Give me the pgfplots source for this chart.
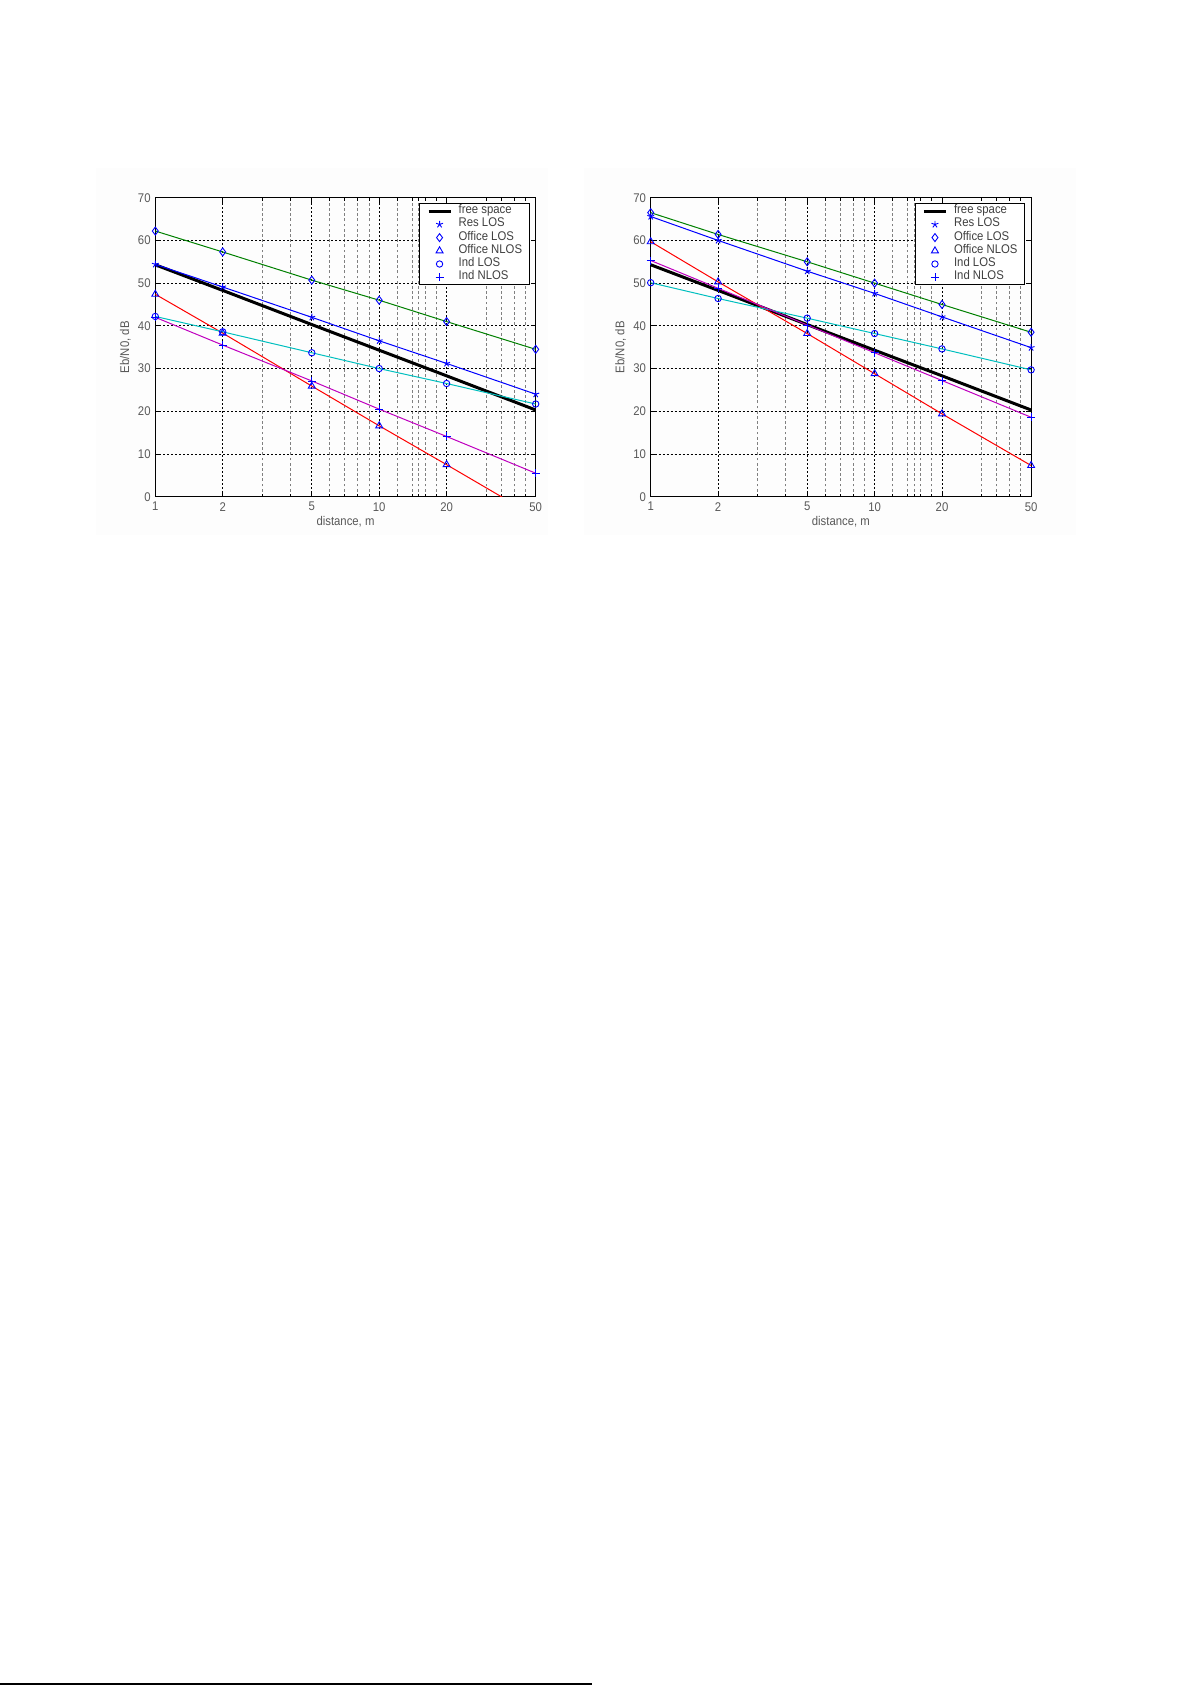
\documentclass[border=0pt]{standalone}
\usepackage{fontspec}
\setmainfont[FakeStretch=0.9]{Liberation Sans}
\usepackage{pgfplots}
\usepackage{pgfplotstable}
\pgfplotsset{compat=1.18}

\definecolor{mblue}{rgb}{0,0,1}
\definecolor{mgreen}{rgb}{0,0.5,0}
\definecolor{mred}{rgb}{1,0,0}
\definecolor{mcyan}{rgb}{0,0.75,0.75}
\definecolor{mmag}{rgb}{0.75,0,0.75}
\definecolor{txt}{gray}{0.35}

\newcommand{\fs}{\fontsize{6.3pt}{6.6pt}\selectfont}

% distance, free space, Res LOS, Office LOS, Office NLOS, Ind LOS, Ind NLOS
\pgfplotstableread{
d   fs    res   olos  onlos ilos  inlos
1   54.3  54.4  62.2  47.4  42.2  42.0
2   48.3  49.1  57.3  38.3  38.6  35.5
5   40.3  42.0  50.7  25.9  33.7  27.1
10  34.3  36.5  46.0  16.6  30.0  20.5
20  28.3  31.2  41.0  7.5   26.5  14.1
50  20.3  24.0  34.5  -4.7  21.7  5.5
}\leftdata

\pgfplotstableread{
d   fs    res   olos  onlos ilos  inlos
1   54.3  65.6  66.5  59.7  50.1  55.3
2   48.3  60.0  61.4  50.3  46.4  48.8
5   40.3  52.8  55.0  38.2  41.8  40.2
10  34.3  47.6  50.0  28.8  38.2  33.7
20  28.3  42.1  45.0  19.4  34.6  27.2
50  20.3  34.9  38.5  7.3   29.7  18.6
}\rightdata

\pgfplotsset{
  legend image code/.code={
    \draw[mark repeat=2, mark phase=2, #1] plot coordinates {(0pt,0pt) (5.5pt,0pt) (11pt,0pt)};},
  every axis/.append style={
    scale only axis, width=190.2pt, height=149.5pt,
    xmode=log, xmin=1, xmax=50, ymin=0, ymax=70,
    xtick={1,2,5,10,20,50}, xticklabels={1,2,5,10,20,50},
    minor xtick={3,4,6,7,8,9,12,14,15,16,18,30,35,40,45},
    ytick={0,10,...,70},
    grid=both,
    major grid style={black, dash pattern=on 0.9pt off 1.1pt, line width=0.45pt},
    minor grid style={black!50, dash pattern=on 1.4pt off 1.2pt, line width=0.4pt},
    tick align=inside, xtick pos=both, ytick pos=both,
    major tick length=2.5pt, minor tick length=1.5pt,
    tick style={black, line width=0.4pt},
    axis line style={line width=0.5pt},
    /pgf/number format/assume math mode=true,
    every tick label/.append style={font=\fs, inner sep=0pt, text=txt},
    xticklabel style={anchor=north, yshift=-2.6pt},
    yticklabel style={anchor=east, xshift=-2.15pt},
    xlabel={distance, m}, ylabel={Eb/N0, dB},
    label style={font=\fs, text=txt},
    xlabel style={at={(axis description cs:0.5,0)}, anchor=center, yshift=-12.5pt},
    ylabel style={at={(axis description cs:0,0.5)}, anchor=center, rotate=0, yshift=15pt},
    legend cell align=left,
    legend style={at={(rel axis cs:1,1)}, anchor=north east,
      xshift=-2.85pt, yshift=-2.8pt, draw=black, line width=0.5pt,
      font=\fs, text=black!75, inner xsep=3.7pt, inner ysep=0.4pt, row sep=0pt,
      nodes={inner sep=0pt, text height=4.5pt, text depth=2.1pt},
      /tikz/every odd column/.append style={column sep=3.3pt}},
  },
}

\newcommand{\drawseries}[1]{%
  \addplot[black, line width=1.5pt, no marks] table[y=fs]{#1};
  \addlegendentry{free space}
  \addplot[forget plot, mblue, line width=0.5pt, no marks] table[y=res]{#1};
  \addplot[forget plot, mgreen, line width=0.5pt, no marks] table[y=olos]{#1};
  \addplot[forget plot, mred, line width=0.5pt, no marks] table[y=onlos]{#1};
  \addplot[forget plot, mcyan, line width=0.5pt, no marks] table[y=ilos]{#1};
  \addplot[forget plot, mmag, line width=0.5pt, no marks] table[y=inlos]{#1};
  \addplot[only marks, mark=star, mark size=1.8pt, mark options={mblue, line width=0.45pt}] table[y=res]{#1};
  \addlegendentry{Res LOS}
  \addplot[only marks, mark=diamond, mark size=2pt, mark options={mblue, line width=0.45pt}] table[y=olos]{#1};
  \addlegendentry{Office LOS}
  \addplot[only marks, mark=triangle, mark size=2pt, mark options={mblue, line width=0.45pt}] table[y=onlos]{#1};
  \addlegendentry{Office NLOS}
  \addplot[only marks, mark=o, mark size=1.6pt, mark options={mblue, line width=0.45pt}] table[y=ilos]{#1};
  \addlegendentry{Ind LOS}
  \addplot[only marks, mark=+, mark size=2pt, mark options={mblue, line width=0.45pt}] table[y=inlos]{#1};
  \addlegendentry{Ind NLOS}
}

\begin{document}
\begin{tikzpicture}
\path[use as bounding box, fill=white] (0,0) rectangle (595.5pt,-842.5pt);
% faint backdrop of the two pasted figures
\fill[black!0.8] (48pt,-84pt) rectangle (274pt,-267.5pt);
\fill[black!0.8] (292pt,-84pt) rectangle (538pt,-267.5pt);

\begin{axis}[at={(77.65pt,-248.35pt)}, anchor=south west]
\drawseries{\leftdata}
\end{axis}

\begin{axis}[at={(325.35pt,-248.35pt)}, anchor=south west]
\drawseries{\rightdata}
\end{axis}

\draw[black, line width=0.7pt] (0,-842pt) -- (296pt,-842pt);
\end{tikzpicture}
\end{document}
